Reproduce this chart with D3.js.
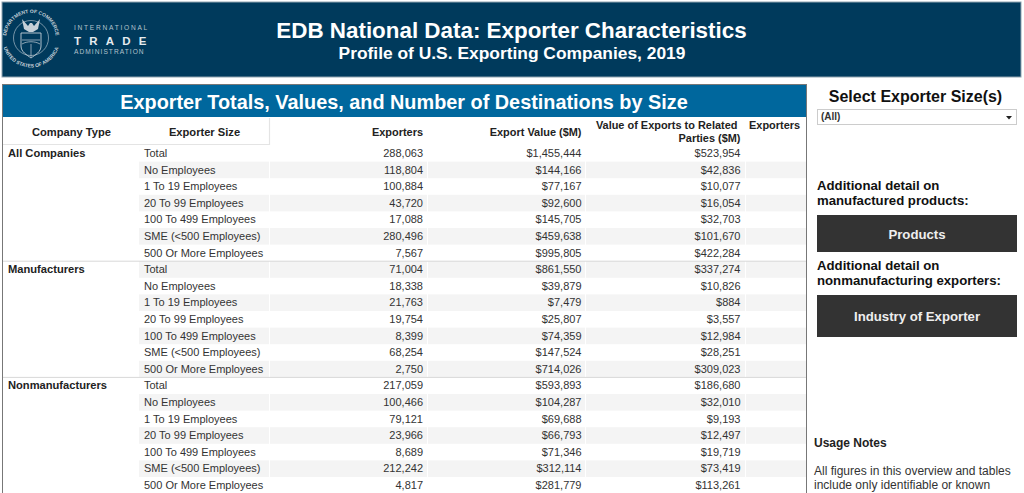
<!DOCTYPE html>
<html>
<head>
<meta charset="utf-8">
<script src="https://cdn.jsdelivr.net/npm/d3@7/dist/d3.min.js"></script>
<style>
html,body{margin:0;padding:0;background:#fff;overflow:hidden}
svg{display:block;font-family:"Liberation Sans",Arial,sans-serif}
</style>
</head>
<body>
<svg id="chart" width="1024" height="493"></svg>
<script>
const companyTypes=["All Companies","Manufacturers","Nonmanufacturers"];
const exporterSizes=["Total","No Employees","1 To 19 Employees","20 To 99 Employees","100 To 499 Employees","SME (<500 Employees)","500 Or More Employees"];
const exporters=[288063,118804,100884,43720,17088,280496,7567,
  71004,18338,21763,19754,8399,68254,2750,
  217059,100466,79121,23966,8689,212242,4817];
const exportValue=[1455444,144166,77167,92600,145705,459638,995805,
  861550,39879,7479,25807,74359,147524,714026,
  593893,104287,69688,66793,71346,312114,281779];
const relatedValue=[523954,42836,10077,16054,32703,101670,422284,
  337274,10826,884,3557,12984,28251,309023,
  186680,32010,9193,12497,19719,73419,113261];

const svg=d3.select("#chart");
const w=1024,h=493;
const ink="#333",headInk="#222";

// top banner
svg.append("rect").attr("x",2).attr("y",2).attr("width",1019).attr("height",75)
  .attr("fill","#003a5c").attr("stroke","#8fa3b0").attr("stroke-width",1);
svg.append("text").attr("x",511.5).attr("y",38).attr("text-anchor","middle")
  .attr("font-size",22.4).attr("font-weight","bold").attr("fill","#fff")
  .text("EDB National Data: Exporter Characteristics");
svg.append("text").attr("x",512).attr("y",59).attr("text-anchor","middle")
  .attr("font-size",17.4).attr("font-weight","bold").attr("fill","#fff")
  .text("Profile of U.S. Exporting Companies, 2019");

// seal
const seal=svg.append("g").attr("transform","translate(31,38)").attr("fill","none").attr("stroke","#c5d0d8");
seal.append("circle").attr("r",17.5).attr("stroke-width",.6);
seal.append("path").attr("id","sealTop").attr("d","M-24,6A24.8,24.8 0 1 1 24,6").attr("stroke","none");
seal.append("path").attr("id","sealBot").attr("d","M-28,8A29,29 0 0 0 28,8").attr("stroke","none");
seal.append("text").attr("font-size",5).attr("font-weight","bold").attr("fill","#c5d0d8").attr("stroke","none")
  .append("textPath").attr("href","#sealTop").attr("startOffset","50%").attr("text-anchor","middle")
  .text("DEPARTMENT OF COMMERCE");
seal.append("text").attr("font-size",5).attr("font-weight","bold").attr("fill","#c5d0d8").attr("stroke","none")
  .append("textPath").attr("href","#sealBot").attr("startOffset","50%").attr("text-anchor","middle")
  .text("UNITED STATES OF AMERICA");
seal.append("path").attr("d","M-10,-5H10V8C10,14 4,17 0,20C-4,17 -10,14 -10,8Z").attr("stroke-width",.9);
seal.append("path").attr("d","M-9,2H9M-9,6C-4,3 4,3 9,6M0,6V19").attr("stroke-width",.7);
seal.append("path").attr("d","M-9,-19L-3,-12L-1,-15L1,-15L3,-12L9,-19L7,-9L2,-6H-2L-7,-9Z")
  .attr("fill","#c5d0d8").attr("stroke","none");

const logoText=[["INTERNATIONAL",30,6.6,"normal",1.75,"#b4c3cd"],["TRADE",44.5,11.5,"bold",8.2,"#e6ebef"],["ADMINISTRATION",54,6.6,"normal",1.05,"#b4c3cd"]];
svg.selectAll(".logo").data(logoText).join("text").attr("class","logo")
  .attr("x",74).attr("y",d=>d[1])
  .attr("font-size",d=>d[2]).attr("font-weight",d=>d[3]).attr("letter-spacing",d=>d[4]).attr("fill",d=>d[5])
  .text(d=>d[0]);

// table panel
svg.append("rect").attr("x",2.5).attr("y",84.5).attr("width",804).attr("height",420)
  .attr("fill","#fff").attr("stroke","#777").attr("stroke-width",1);
svg.append("rect").attr("x",3).attr("y",85).attr("width",803).attr("height",32).attr("fill","#00679d");
svg.append("text").attr("x",404).attr("y",108.5).attr("text-anchor","middle")
  .attr("font-size",19.85).attr("font-weight","bold").attr("fill","#fff")
  .text("Exporter Totals, Values, and Number of Destinations by Size");

const rowIds=d3.range(exporters.length);
const rowY=d3.scaleBand().domain(rowIds).range([145,145+16.6*rowIds.length]);
const colRight=d3.scaleOrdinal().domain(["exporters","value","related"]).range([423,581.5,740.5]);

// stripes run through all rows
svg.append("g").selectAll("rect").data(rowIds.filter(i=>i%2==1)).join("rect")
  .attr("x",139).attr("width",667).attr("y",i=>rowY(i)).attr("height",rowY.bandwidth())
  .attr("fill","#f4f4f4");
const seps=[269,427,585,745];
svg.append("g").selectAll("line").data(seps).join("line")
  .attr("x1",d=>d+.5).attr("x2",d=>d+.5).attr("y1",145).attr("y2",h)
  .attr("stroke","#fff").attr("stroke-width",1);

// header cells
svg.append("path").attr("d","M3,144.5H269.5V118").attr("fill","none").attr("stroke","#e4e4e4").attr("stroke-width",1.2);
const headers=[["Company Type",71.5,"middle",136,11.15],["Exporter Size",204.5,"middle",136,11.15],["Exporters",423,"end",136,10.95],["Export Value ($M)",581.5,"end",136,10.95],["Value of Exports to Related",737.5,"end",129,10.95],["Parties ($M)",740.5,"end",141.5,10.95],["Exporters",749,"start",129,10.95]];
svg.append("g").selectAll("text").data(headers).join("text")
  .attr("x",d=>d[1]).attr("y",d=>d[3]).attr("text-anchor",d=>d[2])
  .attr("font-size",d=>d[4]).attr("font-weight","bold").attr("fill",headInk).text(d=>d[0]);

// group separators
svg.append("g").selectAll("line").data(companyTypes.slice(1)).join("line")
  .attr("x1",3).attr("x2",806)
  .attr("y1",(d,i)=>rowY((i+1)*exporterSizes.length)).attr("y2",(d,i)=>rowY((i+1)*exporterSizes.length))
  .attr("stroke","#d8d8d8").attr("stroke-width",1);

svg.append("g").selectAll("text").data(companyTypes).join("text")
  .attr("x",8).attr("y",(d,i)=>rowY(i*exporterSizes.length)+rowY.bandwidth()/2+3.7)
  .attr("font-size",11.15).attr("font-weight","bold").attr("fill",headInk).text(d=>d);

const fmtN=d3.format(","),fmtD=d3.format("$,");
const body=svg.append("g").attr("font-size",11).attr("fill",ink);
const textY=i=>rowY(i)+rowY.bandwidth()/2+3.7;
body.selectAll(".size").data(rowIds).join("text").attr("class","size")
  .attr("x",144).attr("y",textY).text(i=>exporterSizes[i%exporterSizes.length]);
[["exporters",exporters,fmtN],["value",exportValue,fmtD],["related",relatedValue,fmtD]].forEach(([col,vals,fmt])=>{
  body.selectAll("."+col).data(vals).join("text").attr("class",col)
    .attr("x",colRight(col)).attr("y",(d,i)=>textY(i)).attr("text-anchor","end").text(fmt);
});

// right side controls
const side=svg.append("g");
side.append("text").attr("x",915.5).attr("y",102).attr("text-anchor","middle")
  .attr("font-size",16).attr("font-weight","bold").attr("fill","#111").text("Select Exporter Size(s)");
side.append("rect").attr("x",817.5).attr("y",109.5).attr("width",199).attr("height",15).attr("fill","#fff").attr("stroke","#ccc");
side.append("text").attr("x",821).attr("y",120).attr("font-size",10).attr("font-weight","bold").attr("fill","#333").text("(All)");
side.append("path").attr("d","M1006,116h6l-3,3.5z").attr("fill","#222");

const sideLabels=[["Additional detail on",190],["manufactured products:",205],["Additional detail on",270],["nonmanufacturing exporters:",285]];
side.selectAll(".lab").data(sideLabels).join("text").attr("class","lab")
  .attr("x",817).attr("y",d=>d[1]).attr("font-size",13.2).attr("font-weight","bold").attr("fill","#111").text(d=>d[0]);
const buttons=[["Products",215,37],["Industry of Exporter",295,42]];
side.selectAll(".btn").data(buttons).join("rect").attr("class","btn")
  .attr("x",817).attr("y",d=>d[1]).attr("width",200).attr("height",d=>d[2]).attr("fill","#333");
side.selectAll(".btnt").data(buttons).join("text").attr("class","btnt")
  .attr("x",917).attr("y",d=>d[1]+d[2]/2+5).attr("text-anchor","middle")
  .attr("font-size",13.2).attr("font-weight","bold").attr("fill","#eee").text(d=>d[0]);

side.append("text").attr("x",814).attr("y",447).attr("font-size",12).attr("font-weight","bold").attr("fill","#222").text("Usage Notes");
side.selectAll(".note").data([["All figures in this overview and tables",475],["include only identifiable or known",489]]).join("text").attr("class","note")
  .attr("x",814).attr("y",d=>d[1]).attr("font-size",12).attr("fill","#333").text(d=>d[0]);
</script>
</body>
</html>
